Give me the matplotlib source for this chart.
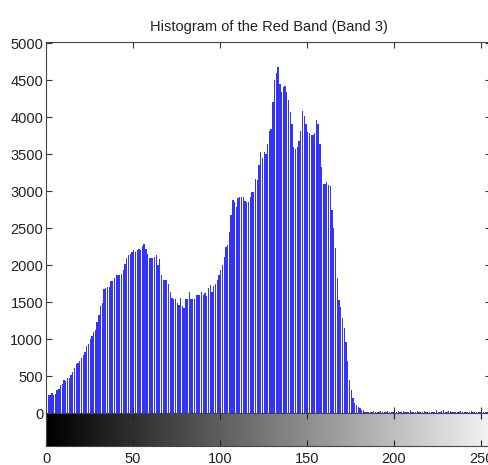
import matplotlib
matplotlib.use('Agg')
import matplotlib.pyplot as plt
import numpy as np

plt.rcParams['font.family'] = ['Liberation Sans Narrow', 'Liberation Sans', 'DejaVu Sans']

# histogram counts for pixel values 0..255
counts = [
    290, 240, 240, 265, 250, 255, 315, 330, 380, 390,
    445, 435, 470, 480, 520, 550, 610, 660, 675, 705,
    740, 790, 825, 900, 930, 1000, 1035, 1095, 1120, 1230,
    1330, 1440, 1485, 1680, 1695, 1705, 1705, 1780, 1780, 1830,
    1860, 1870, 1870, 1875, 1935, 2010, 2090, 2140, 2145, 2175,
    2210, 2180, 2210, 2220, 2210, 2255, 2280, 2220, 2150, 2100,
    2100, 2100, 2110, 2140, 2000, 2085, 1860, 1800, 1800, 1800,
    1740, 1640, 1560, 1545, 1545, 1485, 1455, 1560, 1440, 1420,
    1545, 1545, 1640, 1545, 1545, 1545, 1600, 1600, 1600, 1640,
    1600, 1620, 1575, 1690, 1730, 1640, 1720, 1740, 1800, 1870,
    1935, 2000, 2115, 2250, 2270, 2450, 2675, 2875, 2855, 2785,
    2900, 2920, 2920, 2920, 2860, 2855, 2855, 2920, 2990, 2990,
    3160, 3145, 3355, 3530, 3445, 3530, 3505, 3640, 3810, 3845,
    4200, 4495, 4600, 4675, 4450, 4340, 4405, 4420, 4345, 4225,
    4070, 3910, 3595, 3565, 3595, 3670, 3810, 4080, 4020, 3900,
    3800, 3780, 3755, 3755, 3780, 3960, 3900, 3640, 3330, 3100,
    3095, 3125, 3080, 3065, 2745, 2495, 2225, 1820, 1525, 1435,
    1280, 1145, 965, 707, 445, 310, 200, 130, 108, 85,
    63, 40, 40, 18, 20, 15, 18, 12, 25, 14,
    10, 16, 22, 12, 18, 14, 30, 12, 16, 20,
    10, 14, 25, 18, 12, 30, 16, 14, 20, 40,
    12, 18, 15, 22, 14, 10, 18, 30, 12, 16,
    20, 14, 18, 12, 35, 16, 20, 30, 40, 18,
    14, 22, 30, 16, 12, 20, 18, 14, 25, 12,
    16, 20, 14, 18, 22, 12,
]
counts = counts[:256] + [15] * (256 - len(counts))
levels = np.arange(256)
xticks = [0, 50, 100, 150, 200, 250]
yticks = list(range(0, 5001, 500))

fig = plt.figure(figsize=(4.89, 4.65), dpi=100)
ax = fig.add_axes([0.0941, 0.1118, 0.911, 0.7979])
cax = fig.add_axes([0.0941, 0.0409, 0.911, 0.0709])

ax.bar(levels, counts, width=0.75, align='edge', color='#1010ff', linewidth=0, alpha=0.85)
ax.set_xlim(0, 256)
ax.set_ylim(0, 5015)
ax.set_yticks(yticks)
ax.set_xticks(xticks)
ax.set_xticklabels([])
ax.tick_params(direction='in', top=True, right=True, length=4, labelsize=10.5,
               color='#333333', labelcolor='#222222', pad=2)
for s in ax.spines.values():
    s.set_color('#444444')
ax.set_title('Histogram of the Red Band (Band 3)', fontsize=10.5, color='#222222', pad=8)

grad = np.linspace(0, 1, 256).reshape(1, -1)
cax.imshow(grad, cmap='gray', aspect='auto', extent=[0, 256, 0, 1], vmin=0, vmax=1.05)
cax.set_xlim(0, 256)
cax.set_ylim(0, 1)
cax.set_yticks([])
cax.set_xticks(xticks)
cax.tick_params(direction='in', top=True, length=4, labelsize=10.5,
                color='#222222', labelcolor='#222222', pad=4)
for s in cax.spines.values():
    s.set_color('#444444')

fig.savefig('out.png', dpi=100)
